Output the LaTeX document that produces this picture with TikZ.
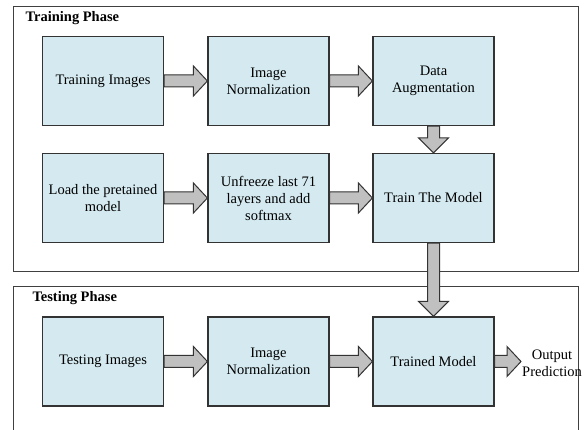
\documentclass[tikz,border=0pt]{standalone}
\usepackage{fontspec}
\setmainfont{Liberation Serif}
\usetikzlibrary{calc}

\definecolor{boxblue}{HTML}{D4EAF0}
\definecolor{arrowgray}{HTML}{C0C0C0}

\tikzset{
  stage/.style={draw=black!80, line width=1.2pt, fill=boxblue, minimum width=121pt, minimum height=89pt, align=center, font=\fontsize{14.5}{17}\selectfont},
  phase/.style={draw=black!75, line width=1pt},
  title/.style={anchor=west, font=\fontsize{14.5}{17}\selectfont\bfseries},
  blk/.style={draw=black!80, line width=1pt, fill=arrowgray, line join=miter},
}

% block arrows between named nodes
\newcommand\harrow[2]{\draw[blk] let \p1=(#1.east), \p2=(#2.west) in
  (\x1,\y1+6pt) -- (\x2-14pt,\y1+6pt) -- (\x2-14pt,\y1+15pt) -- (\x2,\y1) -- (\x2-14pt,\y1-15pt) -- (\x2-14pt,\y1-6pt) -- (\x1,\y1-6pt) -- cycle;}
\newcommand\varrow[2]{\draw[blk] let \p1=(#1.south), \p2=(#2.north) in
  (\x1-6pt,\y1) -- (\x1-6pt,\y2+15pt) -- (\x1-15pt,\y2+15pt) -- (\x1,\y2) -- (\x1+15pt,\y2+15pt) -- (\x1+6pt,\y2+15pt) -- (\x1+6pt,\y1) -- cycle;}

\begin{document}
\begin{tikzpicture}[x=1pt, y=-1pt]
  \useasboundingbox (0,0) rectangle (587,430);
  \clip (0,0) rectangle (587,430);

  % phases
  \draw[phase] (13,7) rectangle (578,272);
  \draw[phase] (13,287) rectangle (578,445);
  \node[title] (trainphase) at (22,18) {Training Phase};
  \node[title] (testphase) at (29,298) {Testing Phase};

  % training
  \node[stage] (trainimg) at (103,81) {Training Images};
  \node[stage] (norm1) at (268.5,81) {Image\\Normalization};
  \node[stage] (augment) at (433.5,81) {Data\\Augmentation};
  \node[stage] (load) at (103,198) {Load the pretained\\model};
  \node[stage] (unfreeze) at (268.5,198) {Unfreeze last 71\\layers and add\\softmax};
  \node[stage] (train) at (433.5,198) {Train The Model};

  % testing
  \node[stage] (testimg) at (103,361.5) {Testing Images};
  \node[stage] (norm2) at (268.5,361.5) {Image\\Normalization};
  \node[stage] (trained) at (433.5,361.5) {Trained Model};
  \node[align=center, inner sep=1pt, font=\fontsize{14.5}{17}\selectfont] (output) at (552,363) {Output\\Prediction};

  \harrow{trainimg}{norm1}
  \harrow{norm1}{augment}
  \varrow{augment}{train}
  \harrow{load}{unfreeze}
  \harrow{unfreeze}{train}
  \varrow{train}{trained}
  \harrow{testimg}{norm2}
  \harrow{norm2}{trained}
  \harrow{trained}{output}
\end{tikzpicture}
\end{document}
